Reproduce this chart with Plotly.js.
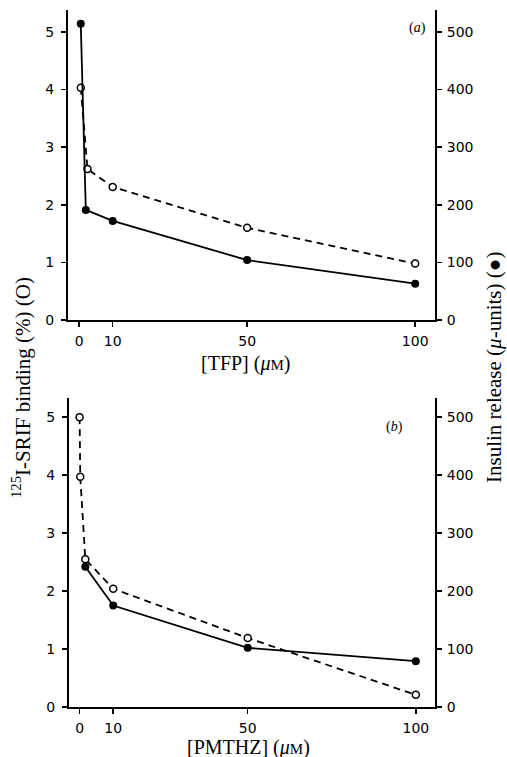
<!DOCTYPE html>
<html>
<head>
<meta charset="utf-8">
<script src="https://cdn.plot.ly/plotly-3.0.1.min.js"></script>
<style>html,body{margin:0;padding:0;background:#fff;}#chart{width:507px;height:757px;}</style>
</head>
<body>
<div id="chart"></div>
<script>
// Panel (a): TFP
var tfpBindConc = [0.5, 2.5, 10, 50, 100];
var tfpBinding = [4.03, 2.62, 2.31, 1.60, 0.98];
var tfpInsConc = [0.5, 2, 10, 50, 100];
var tfpInsulin = [514, 191, 172, 104, 63];

// Panel (b): PMTHZ
var pmBindConc = [0, 0.2, 1.7, 10, 50, 100];
var pmBinding = [5.0, 3.97, 2.55, 2.04, 1.19, 0.21];
var pmInsConc = [1.7, 10, 50, 100];
var pmInsulin = [242, 175, 102, 79];

var xTicks = [0, 10, 50, 100];
var leftTicks = [0, 1, 2, 3, 4, 5];
var rightTicks = [0, 100, 200, 300, 400, 500];

var W = 507, H = 757;
function fx(px){ return px / W; }
function fy(px){ return 1 - px / H; }

var tickFont = {family: 'DejaVu Sans', size: 14, color: '#000'};
var serif = 'Liberation Serif';

function xAxis(anchor, dom, rng){
  return {anchor: anchor, domain: dom, range: rng, tickvals: xTicks, ticktext: xTicks.map(String),
    showline: true, linecolor: '#000', linewidth: 2, ticks: 'outside', ticklen: 5, tickwidth: 1.5,
    tickcolor: '#000', showgrid: false, zeroline: false, tickfont: tickFont, ticklabelstandoff: 2};
}
function yAxis(anchor, dom, rng, vals, side, overlay){
  var a = {anchor: anchor, domain: dom, range: rng, tickvals: vals, ticktext: vals.map(String),
    showline: true, linecolor: '#000', linewidth: 2, ticks: 'outside', ticklen: 5, tickwidth: 1.5,
    tickcolor: '#000', showgrid: false, zeroline: false, tickfont: tickFont, side: side,
    ticklabelstandoff: side === 'left' ? 4 : 2};
  if (overlay) a.overlaying = overlay;
  return a;
}

var openMarker = {symbol: 'circle', size: 7, color: '#fff', line: {color: '#000', width: 1.5}};
var fillMarker = {symbol: 'circle', size: 8, color: '#000', line: {color: '#000', width: 0}};

var traces = [
  {x: tfpBindConc, y: tfpBinding, xaxis: 'x', yaxis: 'y', mode: 'lines+markers',
   line: {color: '#000', width: 1.8, dash: '7px,5px'}, marker: openMarker},
  {x: tfpInsConc, y: tfpInsulin, xaxis: 'x', yaxis: 'y2', mode: 'lines+markers',
   line: {color: '#000', width: 1.8}, marker: fillMarker},
  {x: pmBindConc, y: pmBinding, xaxis: 'x2', yaxis: 'y3', mode: 'lines+markers',
   line: {color: '#000', width: 1.8, dash: '7px,5px'}, marker: openMarker},
  {x: pmInsConc, y: pmInsulin, xaxis: 'x2', yaxis: 'y4', mode: 'lines+markers',
   line: {color: '#000', width: 1.8}, marker: fillMarker}
];

var topDomX = [fx(68), fx(435)], topDomY = [fy(320), fy(10)];
var botDomX = [fx(69), fx(435)], botDomY = [fy(707), fy(398)];

var layout = {
  width: W, height: H, margin: {l: 0, r: 0, t: 0, b: 0},
  paper_bgcolor: '#fff', plot_bgcolor: 'rgba(0,0,0,0)', showlegend: false,
  xaxis: xAxis('y', topDomX, [-3.3, 105.9]),
  yaxis: yAxis('x', topDomY, [0, 5.38], leftTicks, 'left'),
  yaxis2: yAxis('x', topDomY, [0, 538], rightTicks, 'right', 'y'),
  xaxis2: xAxis('y3', botDomX, [-3.15, 105.7]),
  yaxis3: yAxis('x2', botDomY, [0, 5.33], leftTicks, 'left'),
  yaxis4: yAxis('x2', botDomY, [0, 533], rightTicks, 'right', 'y3'),
  annotations: [
    {text: '[TFP] (<i>μ</i><span style="font-size:15px">M</span>)', xref: 'paper', yref: 'paper',
     x: fx(246), y: fy(363), xanchor: 'center', yanchor: 'middle', showarrow: false,
     font: {family: serif, size: 20, color: '#000'}},
    {text: '[PMTHZ] (<i>μ</i><span style="font-size:15px">M</span>)', xref: 'paper', yref: 'paper',
     x: fx(248), y: fy(747), xanchor: 'center', yanchor: 'middle', showarrow: false,
     font: {family: serif, size: 20, color: '#000'}},
    {text: '<sup>125</sup>I-SRIF binding (%) (O)', xref: 'paper', yref: 'paper',
     x: fx(21), y: fy(388), xanchor: 'center', yanchor: 'middle', showarrow: false, textangle: -90,
     font: {family: serif, size: 21, color: '#000'}},
    {text: 'Insulin release (<i>μ</i>-units) (●)', xref: 'paper', yref: 'paper',
     x: fx(494), y: fy(368), xanchor: 'center', yanchor: 'middle', showarrow: false, textangle: -90,
     font: {family: serif, size: 21, color: '#000'}},
    {text: '(<i>a</i>)', xref: 'paper', yref: 'paper', x: fx(417), y: fy(28),
     xanchor: 'center', yanchor: 'middle', showarrow: false, font: {family: serif, size: 14, color: '#000'}},
    {text: '(<i>b</i>)', xref: 'paper', yref: 'paper', x: fx(394), y: fy(427),
     xanchor: 'center', yanchor: 'middle', showarrow: false, font: {family: serif, size: 14, color: '#000'}}
  ]
};

Plotly.newPlot('chart', traces, layout, {staticPlot: true, displayModeBar: false});
</script>
</body>
</html>
